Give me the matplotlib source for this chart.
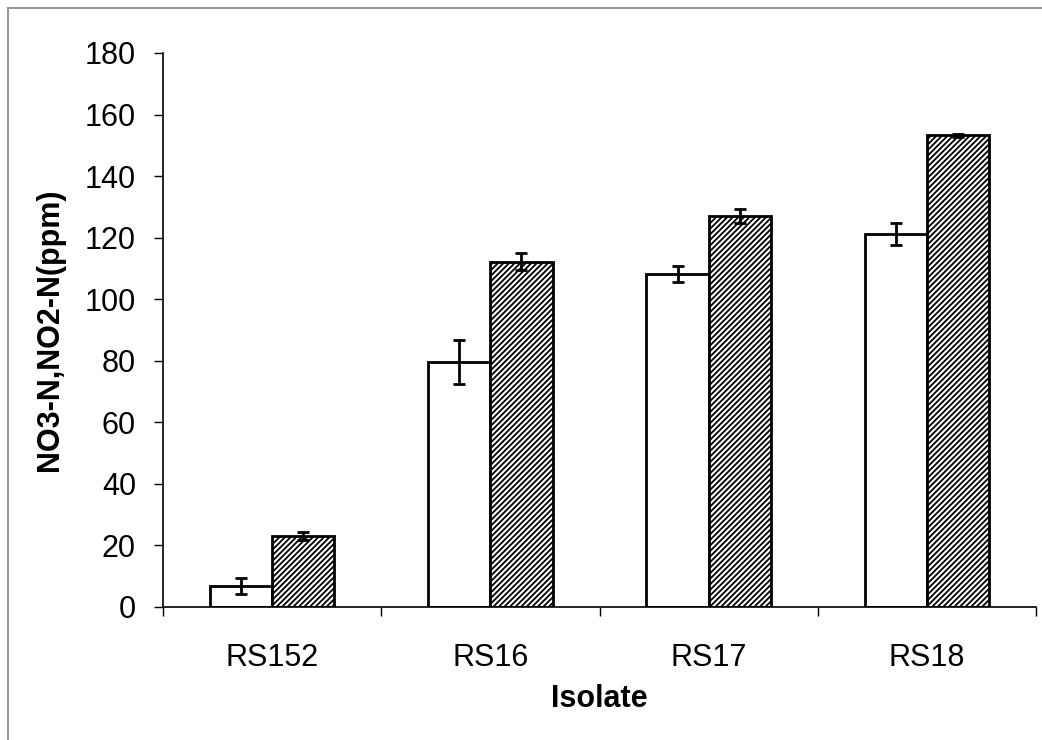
import matplotlib
matplotlib.use("Agg")
import matplotlib.pyplot as plt
import numpy as np
from matplotlib.lines import Line2D

categories = ["RS152", "RS16", "RS17", "RS18"]
series_a = [6.8, 79.5, 108.2, 121.2]
err_a = [2.5, 7.1, 2.7, 3.6]
series_b = [23.0, 112.2, 127.0, 153.2]
err_b = [1.3, 2.7, 2.3, 0.5]
yticks = [0, 20, 40, 60, 80, 100, 120, 140, 160, 180]

plt.rcParams['font.family'] = ['Liberation Sans', 'DejaVu Sans']
plt.rcParams['hatch.color'] = '#5a5a5a'
plt.rcParams['hatch.linewidth'] = 1.3

fig = plt.figure(figsize=(10.42, 7.40), dpi=100)
ax = fig.add_axes([163/1042, 1-607/740, (1036-163)/1042, (607-53)/740])

x = np.arange(len(categories))
w = 0.285
ax.bar(x - w/2, series_a, w, color='white', edgecolor='black', linewidth=2,
       yerr=err_a, capsize=4.5, error_kw=dict(elinewidth=2, capthick=2, ecolor='black'), zorder=2)
ax.bar(x + w/2, series_b, w, color='white', edgecolor='black', linewidth=2, hatch='//////',
       yerr=err_b, capsize=4.5, error_kw=dict(elinewidth=2, capthick=2, ecolor='black'), zorder=2)

ax.set_xlim(-0.5, len(categories) - 0.5)
ax.set_ylim(0, 180)
ax.set_yticks(yticks)
ax.tick_params(axis='y', labelsize=22, length=6.5, width=1, direction='out', pad=13)
ax.set_xticks(x)
ax.set_xticklabels(categories, fontsize=22)
ax.tick_params(axis='x', which='major', length=0, pad=26)
ax.set_xticks(np.arange(len(categories) + 1) - 0.5, minor=True)
ax.tick_params(axis='x', which='minor', length=6.5, width=1, direction='out')
for s in ['top', 'right']:
    ax.spines[s].set_visible(False)
for s in ['left', 'bottom']:
    ax.spines[s].set_linewidth(1.2)
ax.set_xlabel("Isolate", fontsize=22, fontweight='bold', labelpad=8)
ax.set_ylabel("NO3-N,NO2-N(ppm)", fontsize=22, fontweight='bold', labelpad=14)

fig.add_artist(Line2D([8/1042, 8/1042], [0, 1-8/740], transform=fig.transFigure, color='#999999', lw=1.5))
fig.add_artist(Line2D([8/1042, 1], [1-8/740, 1-8/740], transform=fig.transFigure, color='#999999', lw=1.5))

fig.savefig("out.png", dpi=100)
